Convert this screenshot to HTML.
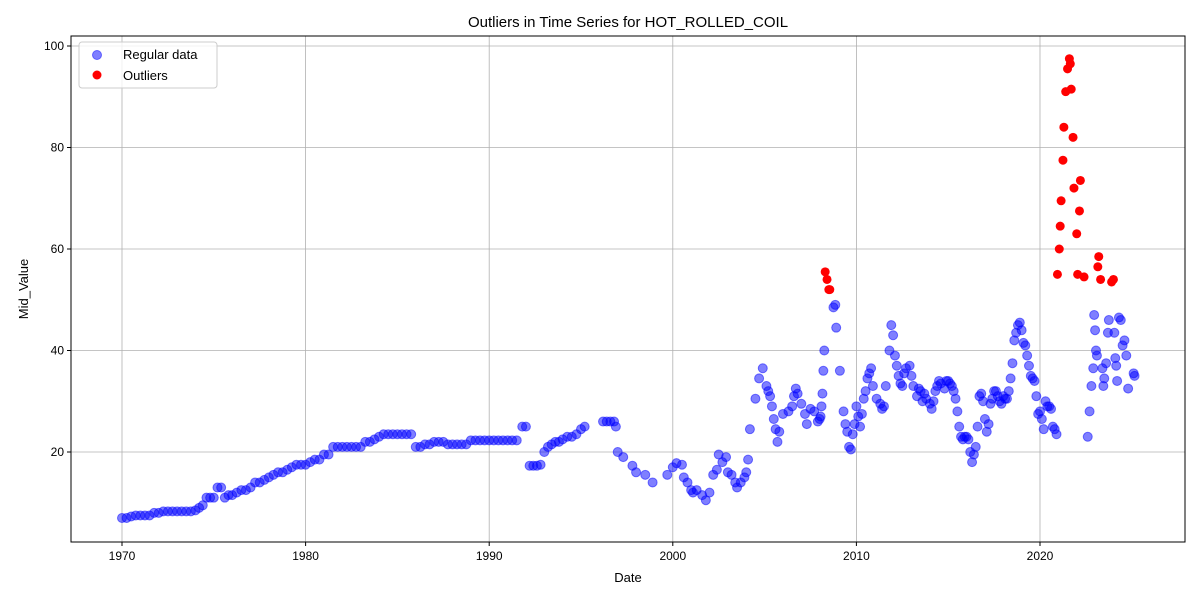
<!DOCTYPE html>
<html><head><meta charset="utf-8"><style>
body{margin:0;background:#fff;font-family:"Liberation Sans",sans-serif}
svg text{font-family:"Liberation Sans",sans-serif;fill:#000}
</style></head><body>
<svg id="c" width="1200" height="600"></svg>
<script>
const regYears=[1970,1970.25,1970.5,1970.75,1971,1971.25,1971.5,1971.75,1972,1972.25,1972.5,1972.75,1973,1973.25,1973.5,1973.75,1974,1974.2,1974.4,1974.6,1974.8,1975,1975.2,1975.4,1975.6,1975.8,1976,1976.25,1976.5,1976.75,1977,1977.25,1977.5,1977.75,1978,1978.25,1978.5,1978.75,1979,1979.25,1979.5,1979.75,1980,1980.25,1980.5,1980.75,1981,1981.25,1981.5,1981.75,1982,1982.25,1982.5,1982.75,1983,1983.25,1983.5,1983.75,1984,1984.25,1984.5,1984.75,1985,1985.25,1985.5,1985.75,1986,1986.25,1986.5,1986.75,1987,1987.25,1987.5,1987.75,1988,1988.25,1988.5,1988.75,1989,1989.25,1989.5,1989.75,1990,1990.25,1990.5,1990.75,1991,1991.25,1991.5,1991.8,1992,1992.2,1992.4,1992.6,1992.8,1993,1993.2,1993.4,1993.6,1993.8,1994,1994.25,1994.5,1994.75,1995,1995.2,
1996.2,1996.4,1996.6,1996.8,1996.9,1997,1997.3,1997.8,1998,1998.5,1998.9,1999.7,2000,2000.2,2000.5,2000.6,2000.8,2001,2001.1,2001.3,2001.6,2001.8,2002,2002.2,2002.4,2002.5,2002.7,2002.9,2003,2003.2,2003.4,2003.5,2003.7,2003.9,2004,2004.1,2004.2,2004.5,2004.7,2004.9,2005.1,2005.2,2005.3,2005.4,2005.5,2005.6,2005.7,2005.8,2006,2006.3,2006.5,2006.6,2006.7,2006.8,2007,2007.2,2007.3,2007.5,2007.7,2007.9,2008,2008.05,2008.1,2008.15,2008.2,2008.25,
2008.75,2008.85,2008.9,2009.1,2009.3,2009.4,2009.5,2009.6,2009.7,2009.8,2009.9,2010,2010.1,2010.2,2010.3,2010.4,2010.5,2010.6,2010.7,2010.8,2010.9,2011.1,2011.3,2011.4,2011.5,2011.6,2011.8,2011.9,2012,2012.1,2012.2,2012.3,2012.4,2012.5,2012.6,2012.7,2012.9,2013,2013.1,2013.3,2013.4,2013.5,2013.6,2013.7,2013.8,2014,2014.1,2014.2,2014.3,2014.4,2014.5,2014.6,2014.8,2014.9,2015,2015.1,2015.2,2015.3,2015.4,2015.5,2015.6,2015.7,2015.8,2015.9,2016,2016.1,2016.2,2016.3,2016.4,2016.5,2016.6,2016.7,2016.8,2016.9,2017,2017.1,2017.2,2017.3,2017.4,2017.5,2017.6,2017.7,2017.8,2017.9,2018,2018.1,2018.2,2018.3,2018.4,2018.5,2018.6,2018.7,2018.8,2018.9,2019,2019.1,2019.2,2019.3,2019.4,2019.5,2019.6,2019.7,2019.8,2019.9,2020,2020.1,2020.2,2020.3,2020.4,2020.5,2020.6,2020.7,2020.8,2020.9,
2022.6,2022.7,2022.8,2022.9,2022.95,2023.0,2023.05,2023.1,2023.4,2023.45,2023.5,2023.6,2023.7,2023.75,2024.05,2024.1,2024.15,2024.2,2024.3,2024.4,2024.5,2024.6,2024.7,2024.8,2025.1,2025.15];
const regValues=[7,7,7.3,7.5,7.5,7.5,7.5,8,8,8.3,8.3,8.3,8.3,8.3,8.3,8.3,8.5,9,9.5,11,11,11,13,13,11,11.5,11.5,12,12.5,12.5,13,14,14,14.5,15,15.5,16,16,16.5,17,17.5,17.5,17.5,18,18.5,18.5,19.5,19.5,21,21,21,21,21,21,21,22,22,22.5,23,23.5,23.5,23.5,23.5,23.5,23.5,23.5,21,21,21.5,21.5,22,22,22,21.5,21.5,21.5,21.5,21.5,22.3,22.3,22.3,22.3,22.3,22.3,22.3,22.3,22.3,22.3,22.3,25,25,17.3,17.3,17.3,17.5,20,21,21.5,22,22,22.5,23,23,23.5,24.5,25,
26,26,26,26,25,20,19,17.3,16,15.5,14,15.5,17,17.8,17.5,15,14,12.5,12,12.5,11.5,10.5,12,15.5,16.5,19.5,18,19,16,15.5,14,13,14,15,16,18.5,24.5,30.5,34.5,36.5,33,32,31,29,26.5,24.5,22,24,27.5,28,29,31,32.5,31.5,29.5,27.5,25.5,28.5,28,26,26.5,27,29,31.5,36,40,
48.5,49,44.5,36,28,25.5,24,21,20.5,23.5,25.5,29,27,25,27.5,30.5,32,34.5,35.5,36.5,33,30.5,29.5,28.5,29,33,40,45,43,39,37,35,33.5,33,35.5,36.5,37,35,33,31,32.5,32,30,31.5,30.5,29.5,28.5,30,32,33,34,33.5,32.5,34,34,33.5,33,32,30.5,28,25,23,22.5,23,23,22.5,20,18,19.5,21,25,31,31.5,30,26.5,24,25.5,29.5,30.5,32,32,31,30,29.5,31,30.5,30.5,32,34.5,37.5,42,43.5,45,45.5,44,41.5,41,39,37,35,34.5,34,31,27.5,28,26.5,24.5,30,29,29,28.5,25,24.5,23.5,23,28,33,36.5,47,
44,40,39,36.5,33,34.5,37.5,43.5,46,43.5,38.5,37,34,46.5,46,41,42,39,32.5,35.5,35,34.5,35,35.5,40.5,46.5];
const outYears=[2020.95,2021.05,2021.1,2021.15,2021.25,2021.3,2021.4,2021.5,2021.6,2021.65,2021.7,2021.8,2021.85,2022.0,2022.05,2022.15,2022.2,2022.4,2023.15,2023.2,2023.3,2023.9,2024.0,2008.3,2008.4,2008.5,2008.55];
const outValues=[55,60,64.5,69.5,77.5,84,91,95.5,97.5,96.5,91.5,82,72,63,55,67.5,73.5,54.5,56.5,58.5,54,53.5,54,55.5,54,52,52];
const xTicks=[1970,1980,1990,2000,2010,2020];
const yTicks=[20,40,60,80,100];

const NS='http://www.w3.org/2000/svg',svg=document.getElementById('c');
const L=71,R=1185,T=36,B=542;
const sx=v=>122+(v-1970)*18.36, sy=v=>452-(v-20)*5.075;
function mk(t,a,p){const e=document.createElementNS(NS,t);for(const k in a)e.setAttribute(k,a[k]);(p||svg).appendChild(e);return e;}
const grid=mk('g',{});
xTicks.forEach(t=>{const x=sx(t);mk('line',{x1:x,x2:x,y1:T,y2:B,stroke:'#b0b0b0','stroke-width':0.8},grid);mk('line',{x1:x,x2:x,y1:B,y2:B+4,stroke:'#000'});
const tx=mk('text',{x:x,y:B+18,'text-anchor':'middle','font-size':12});tx.textContent=t;});
yTicks.forEach(t=>{const y=sy(t);mk('line',{x1:L,x2:R,y1:y,y2:y,stroke:'#b0b0b0','stroke-width':0.8},grid);mk('line',{x1:L-4,x2:L,y1:y,y2:y,stroke:'#000'});
const tx=mk('text',{x:L-7,y:y+4,'text-anchor':'end','font-size':12});tx.textContent=t;});
const reg=mk('g',{});
regYears.forEach((yr,i)=>{const c=mk('circle',{cx:sx(yr),cy:sy(regValues[i]),r:4.5,fill:'#0000ff','fill-opacity':0.5,stroke:'#0000ff','stroke-opacity':0.5,'stroke-width':1},reg);});
const out=mk('g',{});
outYears.forEach((yr,i)=>{const c=mk('circle',{cx:sx(yr),cy:sy(outValues[i]),r:4.5,fill:'#ff0000'},out);});
const fr=mk('rect',{x:L,y:T,width:R-L,height:B-T,fill:'none',stroke:'#000','stroke-width':1});
let t=mk('text',{x:628,y:27,'text-anchor':'middle','font-size':15});t.textContent='Outliers in Time Series for HOT_ROLLED_COIL';
t=mk('text',{x:628,y:582,'text-anchor':'middle','font-size':13});t.textContent='Date';
t=mk('text',{x:28,y:289,'text-anchor':'middle','font-size':13,transform:'rotate(-90 28 289)'});t.textContent='Mid_Value';
const lg=mk('g',{});
mk('rect',{x:79,y:42,width:138,height:46,rx:3,fill:'#fff','fill-opacity':0.8,stroke:'#ccc'},lg);
mk('circle',{cx:97,cy:55,r:4.5,fill:'#0000ff','fill-opacity':0.5,stroke:'#0000ff','stroke-opacity':0.5},lg);
t=mk('text',{x:123,y:59,'font-size':13},lg);t.textContent='Regular data';
mk('circle',{cx:97,cy:75,r:4.5,fill:'#ff0000'},lg);
t=mk('text',{x:123,y:80,'font-size':13},lg);t.textContent='Outliers';
</script>
</body></html>
